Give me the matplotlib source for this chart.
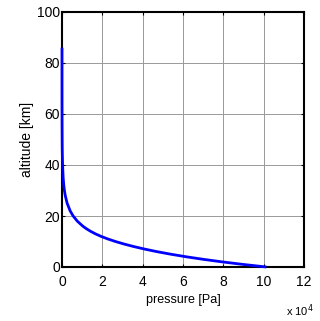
import matplotlib
matplotlib.use("Agg")
import matplotlib.pyplot as plt
import numpy as np

altitude_km = [0, 1, 2, 3, 4, 5, 6, 7, 8, 9, 10, 11, 12, 13, 14, 15, 16, 18, 20,
               22, 25, 28, 30, 32, 35, 40, 45, 47, 50, 55, 60, 65, 70, 75, 80, 86]
pressure_pa = [101325, 89876, 79501, 70121, 61660, 54048, 47217, 41105, 35651, 30800,
               26500, 22700, 19399, 16579, 14170, 12111, 10352, 7565, 5529,
               4047, 2549, 1616, 1197, 889, 574, 287, 149, 111, 80, 43, 22, 11, 5.2, 2.4, 1.05, 0.37]

xticks = [0, 2, 4, 6, 8, 10, 12]
yticks = [0, 20, 40, 60, 80, 100]

plt.rcParams['font.family'] = ['Liberation Sans', 'DejaVu Sans']

fig = plt.figure(figsize=(3.2, 3.21), dpi=100)
ax = fig.add_axes([62/320, 1-267/321, (304-62)/320, (267-12)/321])

ax.plot(np.array(pressure_pa), altitude_km, color='#0000ff', lw=2.0, solid_capstyle='butt', zorder=3, clip_on=False)

ax.set_xlim(0, 12e4)
ax.set_ylim(0, 100)
ax.set_xticks([t*1e4 for t in xticks])
ax.set_xticklabels([str(t) for t in xticks])
ax.set_yticks(yticks)
ax.set_yticklabels([str(t) for t in yticks])
ax.grid(True, color='#999999', lw=0.7, ls='-')
ax.tick_params(direction='in', length=2.5, width=0.8, labelsize=10, top=True, right=True)
ax.tick_params(axis='x', pad=6)
ax.tick_params(axis='y', pad=1.5)
for s in ax.spines.values():
    s.set_linewidth(1.5)
    s.set_color('black')

ax.set_xlabel('pressure [Pa]', fontsize=9, labelpad=3)
ax.set_ylabel('altitude [km]', fontsize=10, labelpad=2)
fig.text(286/320, 1-311/321, r'x 10$^4$', fontsize=8, ha='left', va='center')

fig.savefig('out.png', dpi=100)
